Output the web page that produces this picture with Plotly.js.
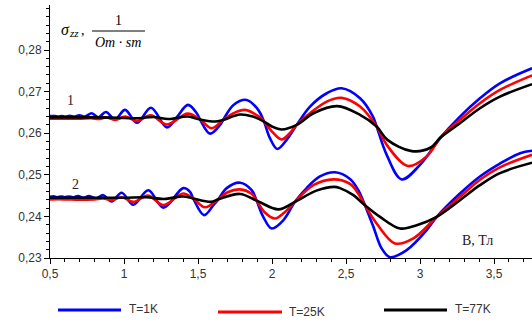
<!DOCTYPE html>
<html><head><meta charset="utf-8">
<script src="https://cdn.plot.ly/plotly-3.0.1.min.js"></script>
<style>html,body{margin:0;padding:0;background:#fff;} #chart{width:532px;height:322px;}</style>
</head><body><div id="chart"></div>
<script>
// Tick labels
const xTickVals = [0.5, 1, 1.5, 2, 2.5, 3, 3.5];
const xTickText = ['0,5', '1', '1,5', '2', '2,5', '3', '3,5'];
const yTickVals = [0.23, 0.24, 0.25, 0.26, 0.27, 0.28];
const yTickText = ['0,23', '0,24', '0,25', '0,26', '0,27', '0,28'];
const seriesNames = ['T=1K', 'T=25K', 'T=77K'];

// Curve group 1 (upper)
const b1x = [0.50,0.534,0.556,0.579,0.605,0.633,0.664,0.698,0.737,0.782,0.826,0.878,0.939,1.007,1.088,1.182,1.29,1.36,1.432,1.491,1.514,1.581,1.649,1.67,1.74,1.829,1.907,1.946,1.986,2.036,2.099,2.167,2.257,2.37,2.47,2.595,2.682,2.707,2.775,2.876,3.0,3.14,3.27,3.405,3.54,3.757];
const b1y = [0.2641,0.2641,0.2640,0.2641,0.2640,0.2642,0.2640,0.2643,0.2640,0.2648,0.2638,0.2651,0.2633,0.2656,0.2625,0.2661,0.2614,0.2640,0.2668,0.2648,0.2633,0.2599,0.2620,0.2632,0.2668,0.2680,0.2656,0.2628,0.2588,0.2562,0.2584,0.2620,0.2664,0.2696,0.2708,0.2684,0.2640,0.2616,0.2548,0.2489,0.2524,0.2590,0.2640,0.2684,0.2720,0.2756];
const r1x = [0.50,0.60,0.70,0.78,0.83,0.88,0.94,1.01,1.09,1.18,1.29,1.43,1.514,1.593,1.67,1.74,1.818,1.907,1.946,2.0,2.065,2.12,2.167,2.257,2.37,2.47,2.595,2.707,2.775,2.919,3.045,3.14,3.27,3.405,3.54,3.757];
const r1y = [0.2635,0.2635,0.2635,0.2636,0.2634,0.2638,0.2632,0.2640,0.2629,0.2643,0.2621,0.2647,0.2633,0.2612,0.2632,0.2648,0.2656,0.2641,0.2628,0.2604,0.2585,0.2600,0.2620,0.2648,0.2676,0.2685,0.2664,0.2616,0.2572,0.2521,0.2544,0.2590,0.2632,0.2672,0.2704,0.2739];
const k1x = [0.50,0.80,0.95,1.10,1.20,1.30,1.43,1.514,1.615,1.67,1.784,1.87,1.946,2.0,2.065,2.167,2.28,2.44,2.595,2.707,2.78,2.944,3.07,3.14,3.27,3.405,3.54,3.757];
const k1y = [0.2638,0.2638,0.2637,0.2636,0.2639,0.2634,0.2640,0.2633,0.2628,0.2632,0.2645,0.2640,0.2628,0.2616,0.2609,0.2620,0.2648,0.2665,0.2644,0.2616,0.2584,0.2557,0.2565,0.2590,0.2624,0.2660,0.2688,0.2718];

// Curve group 2 (lower)
const b2x = [0.50,0.53,0.55,0.575,0.60,0.625,0.655,0.69,0.725,0.765,0.81,0.86,0.917,0.984,1.063,1.164,1.266,1.40,1.446,1.468,1.541,1.604,1.637,1.694,1.784,1.863,1.896,1.941,1.998,2.077,2.155,2.234,2.324,2.426,2.527,2.583,2.628,2.685,2.741,2.797,2.91,3.045,3.113,3.27,3.405,3.54,3.676,3.757];
const b2y = [0.2447,0.2448,0.2446,0.2448,0.2446,0.2448,0.2446,0.2449,0.2445,0.2449,0.2443,0.2451,0.2436,0.2457,0.2428,0.2463,0.2421,0.2468,0.2459,0.2443,0.2403,0.2427,0.2441,0.2468,0.2481,0.2463,0.2438,0.2399,0.2371,0.2391,0.2435,0.2468,0.2496,0.2506,0.2490,0.2463,0.2427,0.2375,0.2323,0.2302,0.2319,0.2367,0.2399,0.2455,0.2496,0.2527,0.2552,0.2558];
const r2x = [0.50,0.60,0.70,0.80,0.86,0.917,0.984,1.063,1.164,1.266,1.40,1.468,1.547,1.637,1.70,1.784,1.86,1.896,1.95,2.02,2.08,2.155,2.279,2.414,2.527,2.595,2.628,2.707,2.831,2.955,3.113,3.27,3.405,3.54,3.757];
const r2y = [0.2441,0.2441,0.2440,0.2441,0.2443,0.2439,0.2446,0.2435,0.2450,0.2427,0.2455,0.2443,0.2422,0.2441,0.2458,0.2465,0.2455,0.2438,0.2410,0.2395,0.2408,0.2435,0.2475,0.2489,0.2478,0.2448,0.2427,0.2383,0.2335,0.2347,0.2399,0.2447,0.2488,0.2518,0.2548];
const k2x = [0.50,0.80,1.00,1.15,1.27,1.40,1.468,1.588,1.637,1.784,1.896,2.043,2.155,2.30,2.42,2.459,2.55,2.628,2.73,2.865,2.978,3.113,3.27,3.405,3.54,3.757];
const k2y = [0.2445,0.2445,0.2445,0.2446,0.2442,0.2448,0.2443,0.2435,0.2441,0.2454,0.2438,0.2417,0.2435,0.2462,0.2471,0.2468,0.2451,0.2427,0.2399,0.2371,0.2379,0.2399,0.2439,0.2475,0.2504,0.2529];

// ---- rendering ----
const W = 532, H = 322, L = 50, R = 0, T = 5, B = 64;
const PW = W - L - R, PH = H - T - B;
const px = v => (v - L) / PW;        // pixel x -> paper x
const py = v => (H - B - v) / PH;    // pixel y -> paper y

const colors = ['#0000ff', '#ff0000', '#000000'];
const groups = [[b1x, b1y, r1x, r1y, k1x, k1y], [b2x, b2y, r2x, r2y, k2x, k2y]];
const traces = [];
groups.forEach((g, gi) => {
  for (let s = 0; s < 3; s++) {
    traces.push({
      x: g[2 * s], y: g[2 * s + 1], type: 'scatter', mode: 'lines',
      name: seriesNames[s], showlegend: false, hoverinfo: 'skip',
      line: {color: colors[s], width: 2.6, shape: 'spline', smoothing: 1}
    });
  }
});

const tickFont = {family: 'Liberation Sans, Arial, sans-serif', size: 12, color: '#333'};
const serif = 'Liberation Serif, Times New Roman, serif';

const legendLines = [[58, 121, 310], [218, 282, 312], [384, 447, 310]];
const legendText = [[127, 309], [287, 311.5], [453, 309]];

const shapes = legendLines.map((l, i) => ({
  type: 'line', xref: 'paper', yref: 'paper',
  x0: px(l[0]), x1: px(l[1]), y0: py(l[2]), y1: py(l[2]),
  line: {color: colors[i], width: 3}
}));
shapes.push({type: 'line', xref: 'paper', yref: 'paper',
  x0: px(92), x1: px(145), y0: py(31), y1: py(31), line: {color: '#000', width: 1}});

const ann = (x, y, text, font, xanchor) => ({
  xref: 'paper', yref: 'paper', x: px(x), y: py(y), xanchor: xanchor || 'center', yanchor: 'middle',
  showarrow: false, text: text, font: font
});
const annotations = legendText.map((t, i) =>
  ann(t[0], t[1], seriesNames[i], {family: 'Liberation Sans, Arial, sans-serif', size: 12, color: '#333'}, 'left'));
annotations.push(
  ann(65, 29, 'σ', {family: serif, size: 16, color: '#000', style: 'italic'}),
  ann(74, 33, 'zz', {family: serif, size: 11, color: '#000', style: 'italic'}),
  ann(83, 31, ',', {family: serif, size: 14, color: '#000'}),
  ann(118, 20, '1', {family: serif, size: 14, color: '#000'}),
  ann(118, 42, 'Om · sm', {family: serif, size: 14, color: '#000', style: 'italic'}),
  ann(70.5, 100, '1', {family: serif, size: 14, color: '#2a2218'}),
  ann(75, 184, '2', {family: serif, size: 14, color: '#2a2218'}),
  ann(477, 240, 'B, Тл', {family: serif, size: 14, color: '#222'})
);

const layout = {
  width: W, height: H,
  margin: {l: L, r: R, t: T, b: B, pad: 0},
  paper_bgcolor: '#fff', plot_bgcolor: '#fff',
  showlegend: false,
  xaxis: {
    range: [0.5, 0.5 + PW / 148], showline: true, linecolor: '#000', linewidth: 1,
    ticks: 'outside', ticklen: 5, tickwidth: 1, tickcolor: '#000',
    showgrid: false, zeroline: false, tickfont: tickFont,
    tickmode: 'array', tickvals: xTickVals, ticktext: xTickText,
    minor: {tickmode: 'linear', tick0: 0.5, dtick: 0.1, ticks: 'outside', ticklen: 3, tickwidth: 1, tickcolor: '#000', showgrid: false}
  },
  yaxis: {
    range: [0.23, 0.23 + PH / 4160], showline: true, linecolor: '#000', linewidth: 1,
    ticks: 'outside', ticklen: 5, tickwidth: 1, tickcolor: '#000',
    showgrid: false, zeroline: false, tickfont: tickFont,
    tickmode: 'array', tickvals: yTickVals, ticktext: yTickText,
    minor: {tickmode: 'linear', tick0: 0.23, dtick: 0.002, ticks: 'outside', ticklen: 3, tickwidth: 1, tickcolor: '#000', showgrid: false}
  },
  shapes: shapes,
  annotations: annotations
};

Plotly.newPlot('chart', traces, layout, {staticPlot: true, displayModeBar: false});
</script>
</body></html>
